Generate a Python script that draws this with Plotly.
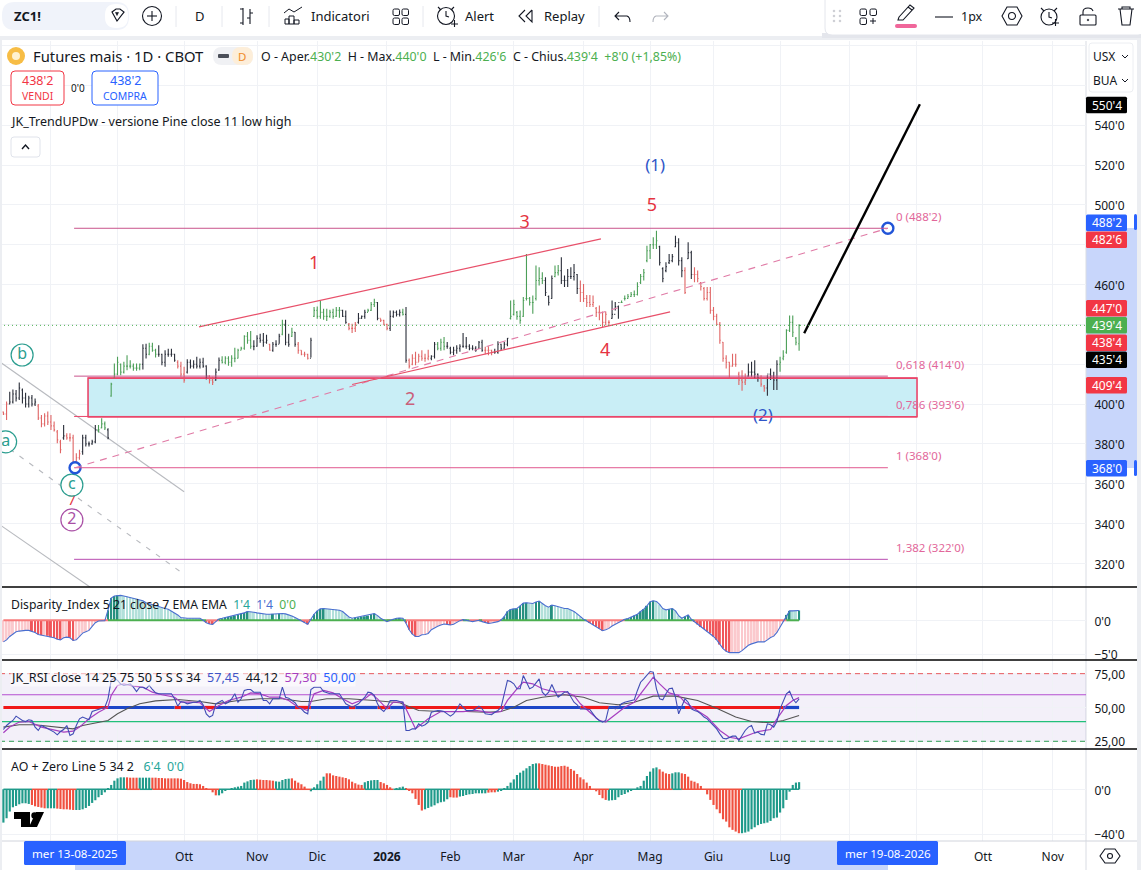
import plotly.graph_objects as go

W = 1141
H = 870

# ---- daily bars of ZC1!
bar_open = [396,395,400,401,405,403,407,403,400,403,400,399,393,390,394,391,389,386,381,383,
            384,383,383,371,373,376,383,380,380,381,387,388,390,387,404,413,415,420,416,419,
            419,419,418,418,420,428,425,429,427,425,425,421,425,425,425,421,419,415,416,421,
            419,420,419,421,419,414,412,412,417,422,421,423,421,423,423,427,428,434,432,429,
            429,433,432,431,430,427,430,430,435,440,431,434,436,430,427,425,425,423,444,447,
            444,446,444,444,446,444,447,447,444,440,438,438,441,443,444,446,447,450,451,443,
            442,440,438,444,446,445,446,445,422,420,423,421,424,423,423,423,424,430,428,431,
            429,428,426,427,428,429,429,429,428,428,428,431,427,427,427,426,426,430,428,430,
            443,445,446,444,444,453,453,451,453,462,463,462,454,453,464,466,467,462,462,464,
            464,465,458,456,453,451,450,448,446,446,441,441,443,445,449,451,453,453,454,455,
            455,461,464,472,477,480,480,479,468,467,471,472,479,481,472,467,473,476,465,465,
            461,458,453,456,447,444,440,431,423,421,419,420,415,412,411,414,416,416,415,413,
            409,408,415,414,412,420,423,426,437,441,433,430.25]
bar_high = [396.2,401.2,406.2,407.3,407,410.8,407.8,405.7,404.2,404.5,402.8,400,394.5,395.3,396.2,394.5,391.2,387,382,389.5,
            385.3,385.3,384.5,375.3,377,384.5,384.5,381.2,382,389.5,389.5,392.8,391.2,387.8,410.7,420.3,423.7,420.3,421.2,424.5,
            422,420.3,420.3,420.3,430,430.3,430.8,430.7,427.8,429.5,425.3,427,427.8,427.8,425.3,422,421.2,418.7,422.5,422.3,
            422,423.7,422.8,423.2,419.5,414.5,413.7,417.8,423.3,424,424,424,424.5,428.2,427.8,428.7,434.5,436.2,436.7,432,
            434.5,435.3,435.7,434.8,430.3,431.2,432,435.3,442.3,442.3,435.3,438.3,436.2,431.2,427,426.2,425.3,433.3,448.7,449,
            452,447.8,447.8,447.3,447.8,448.7,448.7,447.3,447,440.7,440.3,441.2,445.7,444.5,447.3,447.8,451.2,452.8,451.2,442.8,
            442.3,440.3,447,447,447,447.5,447.8,448.7,422.8,425,426.2,425.3,427,425.3,427.3,424.5,431.2,431.2,432.8,433.7,
            431.2,428.7,428.7,429.5,430,435.7,433.7,430,429.5,429,431.7,432.3,428.7,429,427.3,427.8,431.5,430.3,431.2,433.2,
            452,452.3,446.7,447,453.7,475.3,453.7,454.5,469.5,468.7,466.2,463.7,454.5,464.5,469.5,469.8,473.7,464.5,467.8,468.7,
            470.3,465.3,462,460.3,454.8,454.8,454.5,448.7,449.5,446.5,446.5,442,452,451.2,449.5,452,454.5,455.3,456.2,457,
            461.2,465.3,467.8,479.5,480.3,483.7,487,479.5,468.7,471.2,475.3,475.3,484.5,483.2,473.7,468.7,481.2,477,468.7,467,
            461.2,458.7,458.7,458.7,448.7,445.3,441.2,431.2,424.5,421.2,425.3,425.3,416.2,417,415.3,420.3,421.2,422,415.3,414.5,
            409.5,414.5,417.8,416.2,422,423.7,427,437.5,444.5,444.5,433.7,440]
bar_low = [394.5,392,399.8,400.3,401.2,402,400.3,398.3,398.3,398.7,399,392,388.3,388.7,389.5,387,386.2,380.3,375.3,382,
           382,381.2,368.7,369,372,374.5,378.7,378.7,379.5,380.3,385.7,387.8,387,382.3,403.7,412.8,414.5,414.5,415.3,417,
           417.8,416.7,416.7,417,417.3,422.8,424.5,426.2,423.3,423.7,419.5,418.7,423.7,423.7,421.2,417.8,413.7,410.7,415.3,417.8,
           417.8,417.8,417.8,418.2,412.3,410.3,409.5,411.7,416.7,420.3,420,419.2,418.7,421,422.8,427,427.3,430.3,427.8,427,
           428.7,430.7,428.7,430.3,426.7,426.2,428.7,430.3,434.5,429.5,428.7,433.7,428.7,425.3,424.5,423.7,422.3,423.3,443.7,442.8,
           442.8,442.3,441.7,443.3,442.8,443.7,443.3,443.7,440.3,437,435.7,436.2,440.3,442.8,442.8,446.2,446.7,448.7,442,441.2,
           439.5,437,436.7,443.3,444,444,444.5,420.7,417.8,419.5,419.5,421.2,421.7,421.2,422,422,422.8,427,426.7,427,
           427.8,425,424.5,425.3,426.2,428.3,427.8,427,427,426.2,427.8,426.2,425,424.5,424.5,425.3,425.3,426.7,427.8,429,
           442.5,444.5,442.3,440.3,443.7,452,449.5,445.3,452,459.5,460.3,454.2,449.5,452.8,463.7,464.5,460.3,458.7,458.7,462.8,
           462,455.3,451.2,451.2,448.7,448.7,448.7,443.7,442,438.7,439.5,439.5,442.8,447,442.8,450.8,452,452.8,453.7,453.7,
           454.5,460.3,462,471.2,472.8,477.8,477.8,469.5,461.2,466.2,470.3,471.2,478.7,469.5,463.7,455.3,472.8,462.8,461.2,461.2,
           457,452,452,445.3,442,439.5,430.3,421.2,417.8,412.8,418.7,418.7,409.5,406.7,409.5,413.7,413.7,412.8,411.2,408.7,
           406.2,404.2,412,407,407,416.2,422,425.3,436.2,433.7,429.5,426.75]
bar_close = [395,400,401,405,403,408,403,400,403,400,401,393,390,394,391,389,387,382,377,384,
             383,383,371,373,375,383,380,380,381,387,387,390,388,383,410,415,421,416,419,419,
             419,418,418,420,428,425,429,427,425,425,421,425,425,425,422,419,415,412,421,419,
             420,419,421,419,414,412,411,416,422,421,423,421,423,423,427,428,434,432,429,429,
             433,432,431,432,427,430,430,434,440,431,430,436,430,427,425,425,423,432,447,444,
             446,444,444,446,444,447,447,444,441,438,438,440,443,444,446,447,450,451,443,442,
             440,438,444,446,445,446,445,422,419,423,421,424,423,423,424,424,430,428,431,429,
             429,426,427,428,429,429,429,428,428,427,431,427,427,427,426,426,430,428,430,433,
             444,450,444,442,452,453,451,451,462,463,462,456,451,463,466,467,462,462,464,464,
             466,458,456,453,451,450,451,446,446,441,445,441,445,449,451,451,453,454,455,455,
             459,464,466,477,480,480,482,471,463,469,472,474,481,472,467,456,476,465,465,463,
             459,453,456,447,444,440,432,423,421,419,420,420,412,411,412,416,416,415,413,410,
             408,415,414,412,420,421,424,437,441,436,431,439.5]
bar_color_runs = [("r",2),("k",9),("r",8),("k",1),("r",5),("k",5),("g",3),("k",1),("g",10),("k",2),
                  ("g",3),("k",6),("r",3),("k",7),("r",2),("k",2),("g",10),("k",5),("r",1),("k",3),
                  ("g",1),("k",2),("g",1),("k",1),("r",4),("k",1),("g",9),("k",2),("r",3),("k",3),
                  ("g",3),("k",1),("r",3),("k",4),("g",1),("k",1),("r",7),("k",2),("g",3),("k",12),
                  ("r",3),("k",5),("g",11),("k",3),("g",2),("k",6),("r",10),("k",3),("g",12),("k",8),
                  ("r",1),("k",2),("r",17),("k",4),("r",2),("k",4),("g",7)]

# ---- Disparity index
disparity = [-3.2,-2.9,-2.4,-2.1,-1.7,-1.6,-1.5,-1.5,-1.5,-1.6,-1.8,-2.1,-2.2,-2.2,-2.3,-2.5,-2.6,-2.8,-2.9,-2.6,
             -2.5,-2.6,-3.0,-2.9,-2.4,-1.9,-1.7,-1.5,-0.9,-0.35,-0.1,-0.1,-0.05,1.5,3.3,3.6,3.7,3.7,3.6,3.5,
             3.4,3.3,3.2,3.0,2.9,2.6,2.45,2.25,2.15,2.0,1.85,1.75,1.65,1.4,1.1,0.8,0.4,0.3,0.3,0.3,
             0.3,0.3,0.3,0,-0.35,-0.55,-0.6,-0.2,0.2,0.3,0.4,0.5,0.6,0.7,0.8,1.0,1.1,1.3,1.3,1.2,
             1.1,1.0,0.95,0.9,0.9,0.95,0.95,1.0,1.0,0.95,0.85,0.65,0.4,0.15,-0.1,-0.3,-0.6,0.15,0.9,1.4,
             1.7,1.75,1.7,1.7,1.65,1.6,1.5,1.3,0.9,0.5,0.3,0.4,0.45,0.55,0.6,0.7,0.9,1.0,0.7,0.3,
             0.05,-0.2,0,0.2,0.3,0.35,0.3,-0.45,-1.4,-2.05,-2.4,-2.4,-2.15,-2.1,-1.95,-1.4,-1.1,-0.9,-0.7,-0.55,
             -0.6,-0.7,-0.6,-0.3,-0.05,0.1,0.05,-0.1,-0.2,-0.1,0,-0.2,-0.35,-0.45,-0.4,-0.3,-0.2,0.05,0.55,1.3,
             1.6,1.7,1.75,2.15,2.55,2.6,2.5,2.5,2.7,2.85,2.5,2.15,1.95,2.25,2.15,2.0,1.8,1.75,1.75,1.55,
             1.3,0.95,0.55,0.15,-0.1,-0.4,-0.7,-0.95,-1.25,-1.55,-1.4,-1.2,-0.85,-0.6,-0.4,-0.2,0.15,0.25,0.5,0.7,
             0.9,1.3,1.65,2.15,2.75,2.9,2.8,2.35,1.75,1.55,1.65,1.75,1.4,0.7,0.3,0.55,0.8,0.15,-0.2,-0.6,
             -1,-1.3,-1.65,-1.95,-2.4,-2.9,-3.6,-4.2,-4.6,-4.8,-4.8,-4.8,-4.8,-4.5,-4.1,-3.7,-3.5,-3.3,-3.2,-3.2,
             -3.2,-2.9,-2.55,-2.35,-1.8,-1.0,-0.2,0.8,1.4,1.4,1.4,1.45]

# ---- JK_RSI
rsi = [33.7,36.7,38.7,40.4,43.6,42.1,40.4,39.6,40.9,40.4,35.5,33,36.7,35.5,34.2,33,31.8,29.8,32.2,33.7,
       36.7,29.3,30.5,36.7,41.6,42.9,41.6,40.9,47,47.8,48.5,49,50.2,56.4,70,71.7,70,67.3,66.3,66.8,
       67.5,65,61.8,65,65,63.8,66.3,63.3,60.8,60.1,60.1,60.1,60.1,60.1,56.4,51,54.4,53.9,52.7,53.5,
       53.9,53.9,55.2,52,45.3,42.9,44.1,52.7,53.9,55.2,52.7,53.9,56.4,60.1,53.9,56.4,62.6,63.3,63.3,61.3,
       61.3,61.3,55.2,55.2,52.7,56.4,56.4,56.4,65,57.6,56.9,55.2,53.5,50.2,49,46.5,45.3,63.3,65,65,
       65,61.8,60.8,60.1,60.1,60.1,60.1,56.4,52.7,51.5,50.2,51.5,52.7,55.2,57.6,61.3,60.8,58.9,52.7,49,
       47,50.2,55.2,55.2,55.2,54.4,53.9,33,33,34.2,34.2,37.9,36.2,37.2,39.2,46.5,47.3,47.8,47.5,47,
       45.3,43.6,45.3,48.5,52.7,50.2,47.8,47.8,47.8,49,51,49,45.3,45,44.6,46.5,47.8,50.2,61.3,70,
       69.2,67.5,63.8,63.8,73.6,68.7,63.8,65,68.2,71.2,61.3,58.9,61.3,67,61.8,57.6,59.4,61.3,61.8,57.6,
       53.9,52,49,49,49,48.5,45.3,42.1,40.4,39.2,40.4,50.2,50.2,49,50.2,52.7,53.9,54.4,55.2,55.7,
       62.6,68.7,71.2,73.6,76.6,76.1,63.8,56.4,55.7,60.1,63.8,64.3,57.6,45.3,51.5,56.4,53.9,49,47.8,47,
       45.3,42.9,41.6,39.2,36.7,34.2,30.5,27.3,26.8,28,28.8,28.8,25.6,29.3,33,35.5,36.7,31,31.8,30.1,
       29.8,37.9,37.2,35.5,39.6,49,55.2,60.1,62,56.4,53.5,56.4]
rsi_ma_idx = [0,2,5,8,12,15,19,22,24,27,30,33,34,36,38,41,44,47,50,54,56,59,62,65,68,71,75,78,81,84,87,90,93,96,98,101,
              104,107,110,114,116,118,121,123,126,128,130,134,138,142,145,149,154,157,159,162,164,167,170,174,177,180,
              182,185,188,190,192,196,199,201,205,207,210,213,215,218,222,226,229,232,235,238,242,244,247,249,251]
rsi_ma = [31.3,35.5,39.2,39.6,35.5,33.7,31.8,32.5,35.5,41.6,46.5,50.2,58.9,66.3,67.5,65.8,65,61.3,59.4,57.6,53.9,53.9,53.5,47,51.5,55.2,57.6,60.8,60.1,57.6,57.6,55.2,50.2,47.8,60.1,62.6,
          60.8,56.4,52.7,56.4,60.1,56.4,49,53.9,53.9,44.1,34.2,41.6,47,47,47,47.8,46,47,55.2,63.8,68.7,67.5,63.8,61.3,61.8,58.9,
          52.7,46.5,40.4,39.2,42.9,50.2,53.9,60.1,72.4,67.5,60.8,58.9,53.9,49,42.9,33,28,26.8,29.3,32.2,33.7,41.6,51.5,55.2,57.3]
rsi_slow_idx = [0,5,10,16,22,25,29,33,36,39,43,48,55,62,67,74,81,88,94,97,102,109,117,125,131,138,146,152,157,161,165,170,177,183,188,194,199,205,212,219,225,231,236,242,246,251]
rsi_slow = [35.5,37.2,37.2,35.5,34.2,36.7,38.7,40.4,45.3,49,52.7,54.9,55.9,54.4,52.7,55.2,56.4,56.4,54.4,54.4,56.4,56.4,55.2,53.5,47.8,47,47,46.5,47,50.2,55.2,57.6,59.4,57.6,53.5,52,53.9,58.4,58.4,55.2,49.5,42.9,39.6,38.7,40.4,44.12]
rsi_band_runs = [("r",33),("b",21),("r",2),("b",7),("r",4),("b",25),("r",5),("b",12),("r",2),("b",7),("r",4),
                 ("b",5),("r",31),("b",24),("r",9),("b",2),("r",1),("b",19),("r",1),("b",1),("r",31),("b",6)]
rsi_levels = [25, 50, 75]
rsi_upper_mid = 59.4
rsi_lower_mid = 39.6

# ---- AO
ao = [-29.8,-25.9,-19.9,-16.1,-14.9,-13.4,-12.5,-12.5,-13.1,-14,-15.2,-15.8,-16.4,-17,-17,-17,-17,-17.3,-17.6,-17.9,
      -17.9,-18.2,-18.5,-18.5,-18.5,-17.9,-16.7,-14.9,-12.2,-9.8,-7.1,-5.1,-2.7,0.9,3.9,7.7,9.8,10.7,10.7,10.7,
      10.4,10.4,10.4,10.4,10.4,10.4,10.4,10.4,10.4,10.1,10.1,9.8,9.8,9.8,9.8,9.8,9.5,8.3,6.5,5.4,
      4.8,4.8,4.5,3,0.9,-0.6,-2.7,-5.4,-5.4,-3.6,-1.5,-0.6,0.9,1.8,2.4,3,6,7.1,8.3,8.6,
      8.9,8.6,8.3,8.3,8,7.7,7.1,6.8,8.3,9.2,9.5,9.8,7.7,6,4.5,2.4,0,-1.8,1.8,4.5,
      7.7,11.3,14.3,14.3,12.5,11.9,11.3,10.7,10.1,8.9,6.8,5.4,4.2,3.9,6.3,7.4,8,8.3,8.3,6.5,
      5.4,3.9,1.8,0,1.2,1.8,2.4,0.9,-1.2,-3.6,-8.6,-14,-19,-17.9,-16.7,-15.5,-14.3,-12.5,-11.6,-11,
      -8.9,-7.1,-7.4,-7.4,-6.5,-6,-5.1,-4.5,-4.2,-3.6,-3.6,-3.6,-3.6,-3,-2.7,-2.7,-2.1,-1.2,0.9,3,
      6,8.9,12.8,14.9,16.7,18.8,20.8,22.6,23.2,23.2,22.6,22,21.4,20.8,20.2,20.2,20.8,21.1,20.2,18.2,
      16.7,13.7,10.7,8.9,6,3,0,-1.8,-5.1,-8,-9.5,-10.1,-9.8,-9.5,-7.1,-5.1,-4.2,-2.7,-1.5,0,
      1.8,3,7.7,11.9,15.8,18.8,19.6,17.9,15.8,14.3,13.7,14.3,15.2,15.2,14.3,13.7,11.3,7.7,6.8,5.4,
      3,0,-4.5,-9.5,-14,-17.9,-21.4,-26.8,-28.9,-34,-36.3,-37.8,-39.3,-39.3,-38.7,-37.8,-35.7,-34,-32.1,-31,
      -30.4,-29.8,-28.3,-25.9,-25.3,-20.8,-17,-9.5,-2.1,3.9,6,6.4]
ao_color_runs = [("t",9),("r",5),("t",3),("r",6),("t",16),("r",4),("t",4),("r",21),("t",12),("r",6),("t",5),("r",6),("t",5),
                 ("r",12),("t",5),("r",4),("t",4),("r",6),("t",8),("r",3),("t",9),("r",3),("t",13),("r",22),("t",16),("r",4),("t",3),("r",19),("t",19)]

# ---- drawings on the price pane, in bar number and price
fib_start = 22.3
fib_end = 279
fib_levels = [488.25, 414, 393.75, 368, 322]
fib_texts = ["0 (488'2)", "0,618 (414'0)", "0,786 (393'6)", "1 (368'0)", "1,382 (322'0)"]
fib_colors = ["#c9548c", "#c9548c", "#e9466a", "#e0588f", "#b84bb0"]
box_bars = [26.7, 288.2]
box_prices = [393.6, 413]
upper_channel = ([61.7, 188.5], [438.7, 482.9])
lower_channel = ([110, 210.3], [409.8, 446.3])
dashed_trend = ([22.6, 279], [368, 488.25])
forecast = ([252.6, 289.1], [435.5, 550.5])
gray_lines = [([-1.07, 57], [421.1, 355.9]), ([-1.07, 27.3], [339.3, 308.1])]
gray_dash = ([-1.07, 56], [380.9, 315.6])
last_price = 439.5
wave_text = ["(1)", "5", "3", "1", "2", "4", "(2)", "7"]
wave_bar = [205.6, 204.6, 164.4, 98, 128.3, 189.8, 239.6, 21.6]
wave_price = [519, 499, 490.5, 470, 402, 426.6, 393.5, 351]
wave_color = ["#2f55c8", "#e5343f", "#e5343f", "#e5343f", "#c9607a", "#e5343f", "#2f55c8", "#e5343f"]
wave_size = [17, 18, 18, 18, 18, 18, 17, 14]
circle_text = ["b", "a", "c", "2"]
circle_bar = [5.9, 0.7, 21.6, 21.6]
circle_price = [424.6, 381, 359.3, 341.8]
circle_color = ["#2a9d8f", "#2a9d8f", "#2a9d8f", "#a94fa5"]
anchor_bar = [22.6, 279]
anchor_price = [368, 488.25]

# ---- axes text
month_idx = [15, 36, 57, 80, 99, 121, 141, 161, 183, 204, 224, 245, 267, 288, 309, 331]
month_text = ["", "", "Ott", "Nov", "Dic", "<b>2026</b>", "Feb", "Mar", "Apr", "Mag", "Giu", "Lug", "", "", "Ott", "Nov"]
price_ticks = [320, 340, 360, 380, 400, 420, 440, 460, 480, 500, 520, 540, 560, 580]
price_text = ["320'0", "340'0", "360'0", "380'0", "400'0", "", "", "460'0", "", "500'0", "520'0", "540'0", "", ""]
price_tags = [("550'4", "#000000", 105), ("488'2", "#2962ff", 222.7), ("482'6", "#f23645", 239.7), ("447'0", "#f23645", 308.3),
              ("439'4", "#4caf50", 325.3), ("438'4", "#f23645", 342.7), ("435'4", "#000000", 359.7), ("409'4", "#f23645", 385.3),
              ("368'0", "#2962ff", 468.3)]

FONT = "Noto Sans"
TXT = "#131722"
GRID = "#f0f2f6"
GREEN = "#4c9f58"
RED = "#e06565"
BLACK = "#2a2e39"


def X(x):
    return x / W


def Y(y):
    return 1 - y / H


def expand(runs):
    out = []
    for state, n in runs:
        out += [state] * n
    return out


def zero_line(states, which):
    # keep the next bar too so two colours touch with no gap
    out = []
    for i, s in enumerate(states):
        out.append(0 if s == which or (i and states[i - 1] == which) else None)
    return out


bar_idx = list(range(len(bar_close)))
bar_state = expand(bar_color_runs)

fig = go.Figure()

# price bars, one trace per colour
for st, col in (("k", BLACK), ("g", GREEN), ("r", RED)):
    keep = [i for i in bar_idx if bar_state[i] == st]
    fig.add_trace(go.Ohlc(
        x=keep,
        open=[bar_open[i] for i in keep],
        high=[bar_high[i] for i in keep],
        low=[bar_low[i] for i in keep],
        close=[bar_close[i] for i in keep],
        increasing_line_color=col, decreasing_line_color=col,
        line_width=1.1, tickwidth=0.3, xaxis="x", yaxis="y"))

# wave labels
fig.add_trace(go.Scatter(x=wave_bar, y=wave_price, mode="text", text=wave_text,
                         textfont=dict(family=FONT, color=wave_color, size=wave_size), xaxis="x", yaxis="y"))
fig.add_trace(go.Scatter(x=circle_bar, y=circle_price, mode="markers+text", text=circle_text, textposition="middle center",
                         textfont=dict(family=FONT, color=circle_color, size=16),
                         marker=dict(size=22, color="rgba(255,255,255,0.9)", line=dict(color=circle_color, width=1.2)),
                         xaxis="x", yaxis="y"))
fig.add_trace(go.Scatter(x=anchor_bar, y=anchor_price, mode="markers",
                         marker=dict(size=11, color="white", line=dict(color="#2255d8", width=2.4)), xaxis="x", yaxis="y"))

# disparity pane
disp_col = []
disp_side = []
for i, v in enumerate(disparity):
    prev = disparity[i - 1] if i else v
    disp_side.append("p" if v >= 0 else "n")
    if v >= 0:
        disp_col.append("#26907f" if v > prev else "#b2e0da")
    else:
        disp_col.append("#f0565a" if v < prev else "#fbc9cd")
fig.add_trace(go.Bar(x=bar_idx, y=disparity, marker_color=disp_col, marker_line_width=0, width=0.62, xaxis="x", yaxis="y2"))
fig.add_trace(go.Scatter(x=bar_idx, y=zero_line(disp_side, "n"), mode="lines",
                         line=dict(color="#f77c7c", width=2), xaxis="x", yaxis="y2"))
fig.add_trace(go.Scatter(x=bar_idx, y=zero_line(disp_side, "p"), mode="lines",
                         line=dict(color="#4caf50", width=2), xaxis="x", yaxis="y2"))
fig.add_trace(go.Scatter(x=bar_idx, y=disparity, mode="lines", line=dict(color="#4a6fd0", width=1.1), xaxis="x", yaxis="y2"))

# RSI pane
band_state = expand(rsi_band_runs)
fig.add_trace(go.Scatter(x=bar_idx, y=[None if v is None else 50 for v in zero_line(band_state, "r")], mode="lines",
                         line=dict(color="#f01818", width=3.2), xaxis="x", yaxis="y3"))
fig.add_trace(go.Scatter(x=bar_idx, y=[None if v is None else 50 for v in zero_line(band_state, "b")], mode="lines",
                         line=dict(color="#1c46c8", width=3.2), xaxis="x", yaxis="y3"))
fig.add_trace(go.Scatter(x=rsi_slow_idx, y=rsi_slow, mode="lines", line=dict(color="#555555", width=1.1), xaxis="x", yaxis="y3"))
fig.add_trace(go.Scatter(x=rsi_ma_idx, y=rsi_ma, mode="lines", line=dict(color="#a63fc0", width=1.2), xaxis="x", yaxis="y3"))
fig.add_trace(go.Scatter(x=bar_idx, y=rsi, mode="lines", line=dict(color="#3f4cb5", width=1.1), xaxis="x", yaxis="y3"))

# AO pane
ao_state = expand(ao_color_runs)
fig.add_trace(go.Bar(x=bar_idx, y=ao, marker_color=["#1f9a8a" if s == "t" else "#f0503f" for s in ao_state],
                     marker_line_width=0, width=0.68, xaxis="x", yaxis="y4"))
fig.add_trace(go.Scatter(x=bar_idx, y=zero_line(ao_state, "t"), mode="lines",
                         line=dict(color="#1f9a8a", width=1.5), xaxis="x", yaxis="y4"))
fig.add_trace(go.Scatter(x=bar_idx, y=zero_line(ao_state, "r"), mode="lines",
                         line=dict(color="#f0503f", width=1.5), xaxis="x", yaxis="y4"))

shapes = []
annos = []


def sx(x0, y0, x1, y1, **kw):
    # shape placed in price pane (bar, price)
    kw.setdefault("layer", "above")
    shapes.append(dict(type=kw.pop("kind", "line"), xref="x", yref=kw.pop("yref", "y"), x0=x0, y0=y0, x1=x1, y1=y1, **kw))


def line(x0, y0, x1, y1, color, width=1, layer="above", dash=None):
    shapes.append(dict(type="line", xref="paper", yref="paper", x0=X(x0), y0=Y(y0), x1=X(x1), y1=Y(y1), layer=layer,
                       line=dict(color=color, width=width, dash=dash)))


def rect(x0, y0, x1, y1, fill=None, color=None, width=0, layer="above"):
    shapes.append(dict(type="rect", xref="paper", yref="paper", x0=X(x0), y0=Y(y0), x1=X(x1), y1=Y(y1), layer=layer,
                       fillcolor=fill, line=dict(color=color, width=width)))


def circle(cx, cy, r, color="#131722", width=1.1, fill=None, layer="above"):
    shapes.append(dict(type="circle", xref="paper", yref="paper", x0=X(cx - r), y0=Y(cy - r), x1=X(cx + r), y1=Y(cy + r),
                       layer=layer, fillcolor=fill, line=dict(color=color, width=width)))


def path(d, color="#131722", width=1.1, fill=None, layer="above"):
    out = []
    isx = True
    for tok in d.split():
        if tok.isalpha():
            out.append(tok)
            isx = True
        else:
            out.append(str(X(float(tok))) if isx else str(Y(float(tok))))
            isx = not isx
    shapes.append(dict(type="path", xref="paper", yref="paper", path=" ".join(out), layer=layer, fillcolor=fill,
                       line=dict(color=color, width=width)))


def rrect(x0, y0, x1, y1, r, color=None, width=0, fill=None, layer="above"):
    path(f"M {x0+r} {y0} L {x1-r} {y0} Q {x1} {y0} {x1} {y0+r} L {x1} {y1-r} Q {x1} {y1} {x1-r} {y1} "
         f"L {x0+r} {y1} Q {x0} {y1} {x0} {y1-r} L {x0} {y0+r} Q {x0} {y0} {x0+r} {y0} Z", color or "rgba(0,0,0,0)", width, fill, layer)


def text(x, y, s, size=12.5, color=TXT, anchor="left", bg=None, **kw):
    if anchor == "left":
        x -= 1.5
    annos.append(dict(xref="paper", yref="paper", x=X(x), y=Y(y), text=s, showarrow=False, xanchor=anchor, yanchor="middle",
                      font=dict(family=FONT, size=size, color=color), bgcolor=bg, borderpad=0, **kw))


# --- price pane drawings
sx(box_bars[0], box_prices[0], box_bars[1], box_prices[1], kind="rect", fillcolor="#c9eef6", layer="between",
   line=dict(color="#e9466a", width=1.6))
for lv, col in zip(fib_levels, fib_colors):
    sx(fib_start, lv, fib_end, lv, line=dict(color=col, width=1))
sx(box_bars[0], box_prices[1], box_bars[1], box_prices[1], line=dict(color="#e9466a", width=1.4))
sx(box_bars[0], box_prices[0], box_bars[1], box_prices[0], line=dict(color="#e9466a", width=1.6))
for xs, ys in gray_lines:
    sx(xs[0], ys[0], xs[1], ys[1], line=dict(color="#b8babf", width=1.1), layer="between")
sx(gray_dash[0][0], gray_dash[1][0], gray_dash[0][1], gray_dash[1][1], line=dict(color="#b8babf", width=1.1, dash="5px,7px"), layer="between")
sx(dashed_trend[0][0], dashed_trend[1][0], dashed_trend[0][1], dashed_trend[1][1], line=dict(color="#e07ba6", width=1.1, dash="7px,6px"))
sx(upper_channel[0][0], upper_channel[1][0], upper_channel[0][1], upper_channel[1][1], line=dict(color="#e8506a", width=1.2))
sx(lower_channel[0][0], lower_channel[1][0], lower_channel[0][1], lower_channel[1][1], line=dict(color="#e8506a", width=1.2))
sx(forecast[0][0], forecast[1][0], forecast[0][1], forecast[1][1], line=dict(color="#000000", width=2.4))
sx(-1.07, last_price, 341.5, last_price, line=dict(color="#4caf50", width=1, dash="1px,3px"))

for lv, s in zip(fib_levels, fib_texts):
    annos.append(dict(xref="x", yref="y", x=281, y=lv, text=s, showarrow=False, xanchor="left", yanchor="middle", yshift=12,
                      font=dict(family=FONT, size=11.5, color="#e2679a")))

# --- rsi pane background and levels
sx(-1.07, rsi_levels[0], 341.5, rsi_levels[2], kind="rect", yref="y3", fillcolor="rgba(126,87,194,0.09)", layer="below", line=dict(width=0))
sx(-1.07, rsi_levels[2], 341.5, rsi_levels[2], yref="y3", line=dict(color="#e8585d", width=1, dash="5px,4px"), layer="between")
sx(-1.07, rsi_levels[0], 341.5, rsi_levels[0], yref="y3", line=dict(color="#2e9e55", width=1, dash="5px,4px"), layer="between")
sx(-1.07, rsi_upper_mid, 341.5, rsi_upper_mid, yref="y3", line=dict(color="#b44fd0", width=1), layer="between")
sx(-1.07, rsi_lower_mid, 341.5, rsi_lower_mid, yref="y3", line=dict(color="#22c07a", width=1.2), layer="between")

# --- chrome: frames, axis strips
rect(1086, 228, 1137, 468, fill="#c8d6fb", layer="below")
rect(75, 841, 888, 870, fill="#c8d6fb", layer="below")
line(1086, 41, 1086, 841, "#d9dce3", 1, layer="below")
line(0, 841, 1137, 841, "#d1d4dc", 1)
line(1086, 841, 1086, 870, "#d9dce3", 1)
for py in (587, 660, 749):
    line(2, py, 1137, py, "#000000", 1.6)
rect(0, 35, 1141, 40, fill="#eceef2")
rect(0, 36, 2, 870, fill="#eceef2")
rect(1137, 36, 1141, 870, fill="#eceef2")
rect(0, 0, 1141, 36, fill="#ffffff")

# top toolbar left
rrect(2, 2, 129, 30, 13, fill="#f0f3fa")
rrect(105, 4, 128, 28, 11, fill="#ffffff")
text(14, 16, "<b>ZC1!</b>", 13)
path("M 112 12 L 116 9 L 120 9 L 124 12 L 117 21 Z", width=1.2)
path("M 115.5 12.5 L 118.5 12.5 L 117 15.5 Z", fill="#131722", width=0.6)
circle(152, 16, 9.5)
line(147, 16, 157, 16, "#131722", 1.1)
line(152, 11, 152, 21, "#131722", 1.1)
text(200, 16, "D", 13, anchor="center")
for sep in (176, 222, 269, 423, 599):
    line(sep, 6, sep, 27, "#e6e8ee", 1)
path("M 243 8 L 243 25 M 243 9 L 240 9 M 240 23 L 243 23 M 250 9 L 250 24 M 250 13 L 253 13 M 247 18 L 250 18")
path("M 284 13 L 289 9 L 294 12 L 302 7 M 285 24 L 285 19 L 289 19 L 289 24 Z M 289 24 L 289 16 L 294 16 L 294 24 Z M 294 24 L 294 20 L 299 20 L 299 24 Z", width=1)
text(311, 16, "Indicatori", 13)
for bx, by in ((393, 9), (402, 9), (393, 18), (402, 18)):
    rrect(bx, by, bx + 6.5, by + 6.5, 1.5, "#131722", 1)
circle(446, 16, 8.5)
path("M 446 11 L 446 16 L 449 17 M 438 7 L 441 10 M 454 7 L 451 10 M 451 24 L 458 24 M 454.5 20 L 454.5 27", width=1.1)
text(465, 16, "Alert", 13)
path("M 525 10 L 519 16 L 525 22 M 532 10 L 526 16 L 532 22 L 532 10", width=1.1)
text(544, 16, "Replay", 13)
path("M 619 12 L 615 16 L 619 20 M 615 16 L 627 16 Q 630 17 630 22", width=1.1)
path("M 664 12 L 668 16 L 664 20 M 668 16 L 656 16 Q 653 17 653 22", "#b2b5be", 1.1)

# floating toolbar right
rect(822, 33, 1141, 38, fill="#e4e6ec")
rrect(825, -8, 1145, 35, 7, fill="#ffffff", color="#e4e6ec", width=1)
for dx in (834, 840):
    for dy in (11, 16, 21):
        circle(dx, dy, 0.9, "#c6c8ce", 0.6, "#c6c8ce")
for bx, by in ((860, 9), (870, 9), (860, 18)):
    rrect(bx, by, bx + 6.5, by + 6.5, 1.5, "#131722", 1)
path("M 873 18 L 873 24 M 870 21 L 876 21", width=1)
path("M 899 17 L 910 5 L 914 8 L 903 20 L 898 20 Z M 908 7 L 912 10", width=1.1)
rrect(895, 24, 917, 28, 2, fill="#f0669a")
line(935, 17, 953, 17, "#131722", 1.1)
text(961, 17, "1px", 12.5)
path("M 1007 7 L 1017 7 L 1022 16 L 1017 25 L 1007 25 L 1002 16 Z", width=1.1)
circle(1012, 16, 3.5)
circle(1049, 17, 8)
path("M 1049 12 L 1049 17 L 1052 18 M 1041 8 L 1044 11 M 1057 8 L 1054 11 M 1052 23 L 1059 23 M 1055.5 19 L 1055.5 26", width=1.1)
rrect(1080, 15, 1096, 25, 1, "#131722", 1.1)
path("M 1083 15 L 1083 12 Q 1083 8 1088 8 Q 1092 8 1093 11", width=1.1)
circle(1088, 20, 0.8, "#131722", 0.6, "#131722")
path("M 1118 9 L 1134 9 M 1122 9 L 1122 7 L 1130 7 L 1130 9 M 1120 9 L 1122 25 L 1130 25 L 1132 9", width=1.1)

# legend on price pane
circle(16, 56, 9, "#f5b942", 0, "#f7bd45")
circle(16, 56, 4, "#ffffff", 0, "#fff2cf")
rrect(213, 47, 253, 65, 9, fill="#f0f1f4")
rrect(232, 47, 253, 65, 9, fill="#fdeed9")
rrect(218, 54, 229, 58, 1, fill="#4b4f59")
text(242.5, 56, "D", 11.5, "#f08c2a", anchor="center")
text(33, 56, "Futures mais · 1D · CBOT", 14.8)
G = "#4caf50"
text(261, 56, f"O - Aper.<span style='color:{G}'>430'2</span>&nbsp; H - Max.<span style='color:{G}'>440'0</span>&nbsp; "
              f"L - Min.<span style='color:{G}'>426'6</span>&nbsp; C - Chius.<span style='color:{G}'>439'4&nbsp; +8'0 (+1,85%)</span>", 12.4)
rrect(11, 71, 64, 105, 4, "#f23645", 1, "#ffffff")
rrect(92, 71, 158, 105, 4, "#2962ff", 1, "#ffffff")
text(37.5, 80, "438'2", 12.5, "#f23645", anchor="center")
text(37.5, 96, "VENDI", 10.5, "#f23645", anchor="center")
text(125, 80, "438'2", 12.5, "#2962ff", anchor="center")
text(125, 96, "COMPRA", 10.5, "#2962ff", anchor="center")
text(78, 88, "0'0", 10, anchor="center")
text(11, 121, "JK_TrendUPDw - versione Pine close 11 low high", 12.5)
rrect(11, 137, 40, 157, 3, "#e0e3eb", 1, "#ffffff")
path("M 22 149 L 25.5 145 L 29 149", width=1.4)

# pane legends
T = "#26a69a"
B = "#3f55c8"
text(11, 604, f"Disparity_Index 5 21 close 7 EMA EMA&nbsp; <span style='color:{T}'>1'4</span>&nbsp; <span style='color:#4a6fd0'>1'4</span>&nbsp; <span style='color:{G}'>0'0</span>", 12.2)
text(11, 677, f"JK_RSI close 14 25 75 50 5 S S 34&nbsp; <span style='color:{B}'>57,45</span>&nbsp; 44,12&nbsp; <span style='color:#a63fc0'>57,30</span>&nbsp; <span style='color:#2962ff'>50,00</span>",
     12.6, bg="rgba(255,255,255,0.55)")
text(11, 766, f"AO + Zero Line 5 34 2&nbsp;&nbsp; <span style='color:{T}'>6'4</span>&nbsp; <span style='color:{T}'>0'0</span>", 12.4)

# TradingView mark
path("M 14 812 L 30 812 L 30 827 L 21 827 L 21 819 L 14 819 Z", "#000000", 0, "#000000")
circle(34.5, 815.5, 3.2, "#000000", 0, "#000000")
path("M 36 812 L 44 812 L 37 827 L 29 827 Z", "#000000", 0, "#000000")

# price axis controls and tags
rrect(1089, 43, 1133, 92, 3, "#eceef2", 1, "#ffffff")
text(1093, 56, "USX", 12)
text(1093, 80, "BUA", 12)
path("M 1122 55 L 1125 58 L 1128 55", width=1)
path("M 1122 79 L 1125 82 L 1128 79", width=1)
for s, col, cy in price_tags:
    rrect(1086, cy - 8.3, 1127, cy + 8.3, 1.5, fill=col)
    text(1106.5, cy, s, 12, "#ffffff", anchor="center")
rrect(1134, 214, 1137, 230, 1.5, fill="#2962ff")
rrect(1134, 460, 1137, 476, 1.5, fill="#2962ff")

# time axis tags
rrect(24, 841, 126, 865, 1.5, fill="#2962ff")
text(75, 853.5, "mer 13-08-2025", 11.6, "#ffffff", anchor="center")
rrect(837, 841, 938, 865, 1.5, fill="#2962ff")
text(887.5, 853.5, "mer 19-08-2026", 11.6, "#ffffff", anchor="center")
path("M 1105 849 L 1115 849 L 1120 856 L 1115 863 L 1105 863 L 1100 856 Z", width=1.1)
circle(1110, 856, 2.5)

top_p, bot_p = 582.3, 308.1


def yax(domain, rng, vals, labels):
    return dict(domain=domain, range=rng, side="right", anchor="x", tickmode="array", tickvals=vals, ticktext=labels,
                tickfont=dict(family=FONT, size=12, color=TXT), showgrid=True, gridcolor=GRID, gridwidth=1, zeroline=False,
                showline=False, ticks="outside", ticklen=5, tickcolor="rgba(0,0,0,0)", tickwidth=1, fixedrange=True,
                ticklabelshift=1, automargin=False)


fig.update_layout(
    width=W, height=H, autosize=False,
    margin=dict(l=0, r=0, t=0, b=0, autoexpand=False),
    paper_bgcolor="white", plot_bgcolor="rgba(0,0,0,0)",
    showlegend=False, hovermode=False, barmode="overlay",
    shapes=shapes, annotations=annos,
    xaxis=dict(domain=[0, 1086 / W], range=[-1.0726, 341.5], anchor="y4", tickmode="array", tickvals=month_idx, ticktext=month_text,
               tickfont=dict(family=FONT, size=12, color=TXT), showgrid=True, gridcolor=GRID, gridwidth=1, zeroline=False,
               showline=False, ticks="outside", ticklen=5, tickcolor="rgba(0,0,0,0)", rangeslider=dict(visible=False), fixedrange=True,
               automargin=False),
    yaxis=yax([Y(587), Y(41)], [bot_p, top_p], price_ticks, price_text),
    yaxis2=yax([Y(660), Y(587)], [-5.89, 4.94], [-5, 0], ["−5'0", "0'0"]),
    yaxis3=yax([Y(749), Y(660)], [19.3, 85.1], rsi_levels, ["25,00", "50,00", "75,00"]),
    yaxis4=yax([Y(841), Y(749)], [-46.26, 36.06], [-40, 0], ["−40'0", "0'0"]),
)

fig.write_html("out.html", config=dict(displayModeBar=False),
               post_script="document.body.style.margin='0';document.body.style.overflow='hidden';")
